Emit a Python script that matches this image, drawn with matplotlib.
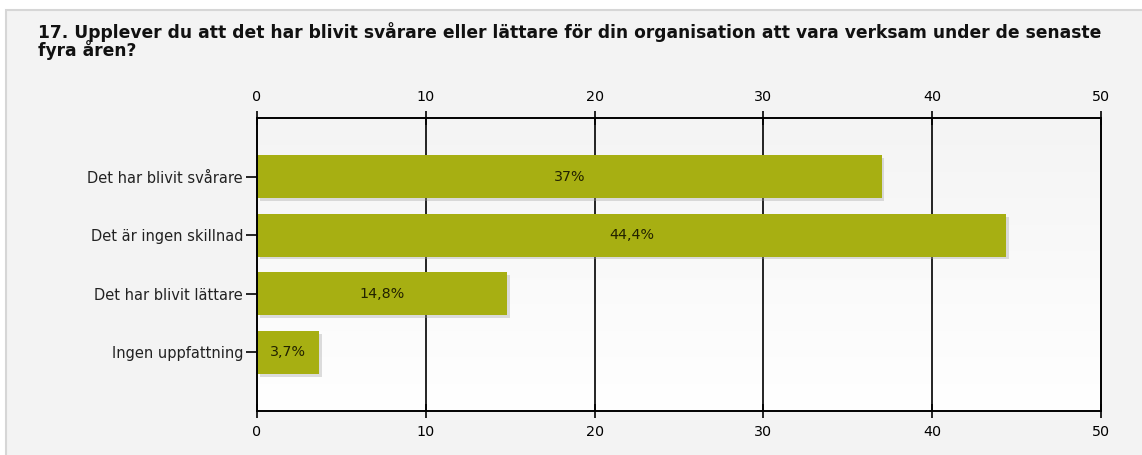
import numpy as np
import matplotlib.pyplot as plt
from matplotlib import patheffects as pe
from matplotlib.colors import LinearSegmentedColormap
from matplotlib.patches import Rectangle

categories = ["Det har blivit svårare", "Det är ingen skillnad",
              "Det har blivit lättare", "Ingen uppfattning"]
values = [37.0, 44.4, 14.8, 3.7]
labels = ["37%", "44,4%", "14,8%", "3,7%"]
xticks = [0, 10, 20, 30, 40, 50]
title = ("17. Upplever du att det har blivit svårare eller lättare för din organisation att vara verksam under de senaste\n"
         "fyra åren?")

W, H = 1142, 455
fig = plt.figure(figsize=(W / 100, H / 100), dpi=100)
fig.patch.set_facecolor("white")
# outer panel with a light border on the left and top
panel = Rectangle((6 / W, -0.01), 1.0, 1.01 - 10 / H, transform=fig.transFigure,
                  facecolor="#f3f3f3", edgecolor="#d6d6d6", linewidth=1.5, zorder=-10)
fig.patches.append(panel)
fig.text(38 / W, 1 - 22 / H, title, fontsize=12.3, fontweight="bold", color="#111111",
         va="top", ha="left", linespacing=0.9)

ax = fig.add_axes([257 / W, 44 / H, (1101 - 257) / W, (411 - 118) / H])
ax.set_facecolor("none")
ax.set_xlim(0, 50)
ax.set_ylim(4, -1)

# vertical gradient background
grad = np.linspace(0, 1, 256).reshape(-1, 1)
cmap = LinearSegmentedColormap.from_list("bg", ["#f4f4f4", "#ffffff"])
ax.imshow(grad, extent=(0, 50, 4, -1), aspect="auto", cmap=cmap, zorder=0)

for x in xticks[1:-1]:
    ax.axvline(x, color="black", linewidth=1.2, zorder=1)

y = np.arange(len(categories))
bars = ax.barh(y, values, height=0.73, color="#a7af12", zorder=2)
for b in bars:
    b.set_path_effects([pe.SimplePatchShadow(offset=(2, -2), shadow_rgbFace="#a0a0a0", alpha=0.35),
                        pe.Normal()])
for yi, v, lab in zip(y, values, labels):
    ax.text(v / 2, yi, lab, ha="center", va="center", fontsize=10.3, color="#222200", zorder=3)

ax.set_yticks(y)
ax.set_yticklabels(categories, fontsize=10.5, color="#222222")
ax.set_xticks(xticks)
ax.tick_params(axis="x", which="both", top=True, labeltop=True, bottom=True, labelbottom=True,
               direction="inout", length=10, width=1.2, labelsize=10.3, pad=5)
ax.tick_params(axis="y", direction="out", length=8, width=1.2, pad=2)
for s in ax.spines.values():
    s.set_color("black")
    s.set_linewidth(1.4)
    s.set_zorder(4)

fig.savefig("out.png", dpi=100)
